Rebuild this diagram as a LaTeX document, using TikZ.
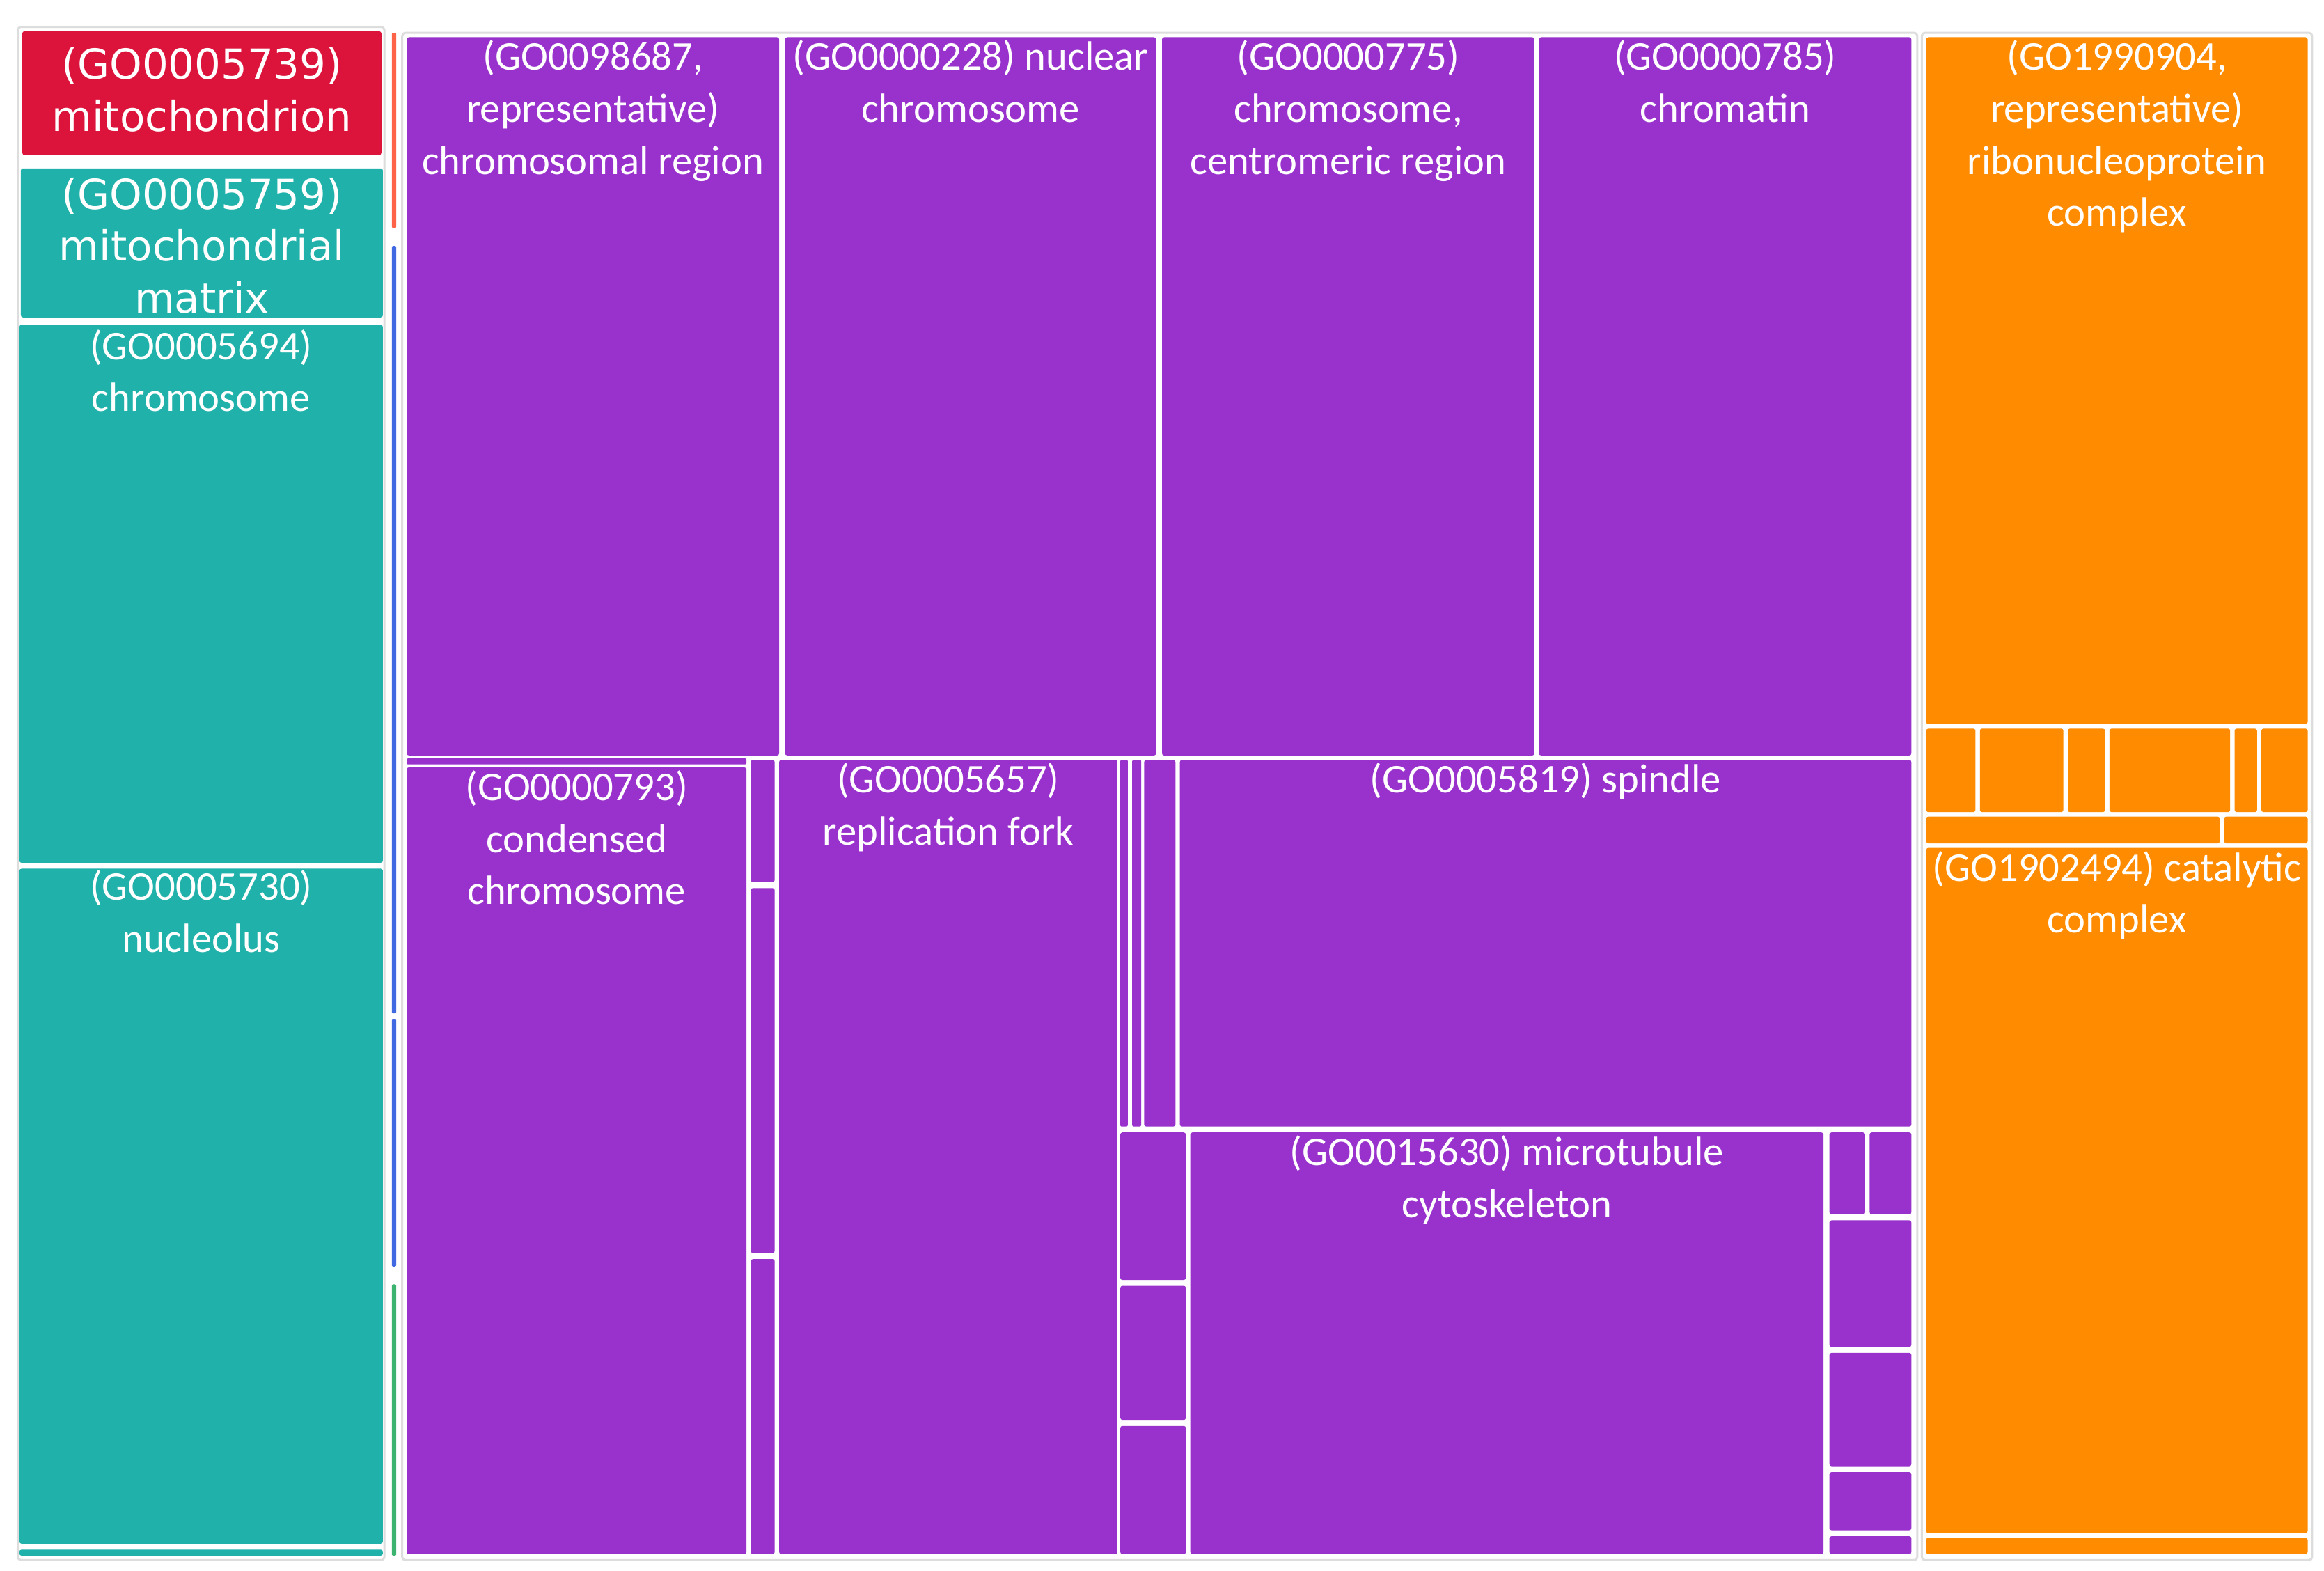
\documentclass[tikz,border=0pt]{standalone}
\usepackage{fontspec}
\setmainfont{Carlito}
\newfontfamily\dvs{DejaVu Sans}
\definecolor{cRed}{HTML}{DC143C}
\definecolor{cTeal}{HTML}{20B2AA}
\definecolor{cPur}{HTML}{9932CC}
\definecolor{cOr}{HTML}{FF8C00}
\definecolor{cTom}{HTML}{FF6347}
\definecolor{cBlue}{HTML}{4169E1}
\definecolor{cGreen}{HTML}{3CB371}
\definecolor{cGray}{HTML}{DDDDDD}
\tikzset{x=0.5mm,y=-0.5mm,
 tile/.style={rounded corners=2pt},
 grp/.style={draw=cGray,line width=2pt,fill=white,rounded corners=3pt},
 lbl/.style={anchor=north,align=center,text=white,font=\fontsize{39}{49.6}\selectfont,inner sep=0pt},
 lbld/.style={anchor=north,align=center,text=white,font=\dvs\fontsize{39.5}{49.6}\selectfont,inner sep=0pt}}
\newcommand\mytile[5]{\fill[tile,#1] (#2,#3) rectangle (#4,#5);}
\begin{document}
\begin{tikzpicture}
\useasboundingbox (0,0) rectangle (1560,1054.3);
\fill[white] (0,0) rectangle (1560,1054.3);
% groups
\draw[grp] (12,18) rectangle (258,1047);
\draw[grp] (270,22) rectangle (1287,1047);
\draw[grp] (1290,22) rectangle (1552,1047);
% left column
\mytile{cRed}{15}{21}{256}{104}
\mytile{cTeal}{14}{113}{257}{213}
\mytile{cTeal}{13}{218}{257}{579}
\mytile{cTeal}{13}{583}{257}{1036}
\mytile{cTeal}{13}{1040}{257}{1044}
\node[lbld] (n1) at (135.5,32) {(GO0005739)\\mitochondrion};
\node[lbld] (n2) at (135.5,119) {(GO0005759)\\mitochondrial\\matrix};
\node[lbl] (n3) at (135,221) {(GO0005694)\\chromosome};
\node[lbl] (n4) at (135,584) {(GO0005730)\\nucleolus};
% strip
\fill[cTom,rounded corners=1pt] (263,22) rectangle (266,153);
\fill[cBlue,rounded corners=1pt] (263,165) rectangle (266,680);
\fill[cBlue,rounded corners=1pt] (263,684) rectangle (266,850);
\fill[cGreen,rounded corners=1pt] (263,862) rectangle (266,1044);
% purple
\mytile{cPur}{273}{25}{523}{507}
\mytile{cPur}{527}{25}{776}{507}
\mytile{cPur}{780}{25}{1030}{507}
\mytile{cPur}{1033}{25}{1283}{507}
\fill[cPur,rounded corners=1pt] (273,509) rectangle (501,513);
\mytile{cPur}{273}{515}{501}{1043}
\mytile{cPur}{504}{510}{520}{592}
\mytile{cPur}{504}{596}{520}{841}
\mytile{cPur}{504}{845}{520}{1043}
\mytile{cPur}{523}{510}{750}{1043}
\fill[cPur,rounded corners=1pt] (752,510) rectangle (757,756);
\fill[cPur,rounded corners=1pt] (760,510) rectangle (766,756);
\mytile{cPur}{768}{510}{789}{756}
\mytile{cPur}{792}{510}{1283}{756}
\mytile{cPur}{752}{760}{796}{859}
\mytile{cPur}{752}{863}{796}{953}
\mytile{cPur}{752}{957}{796}{1043}
\mytile{cPur}{799}{760}{1224}{1043}
\mytile{cPur}{1228}{760}{1252}{815}
\mytile{cPur}{1255}{760}{1283}{815}
\mytile{cPur}{1228}{819}{1283}{904}
\mytile{cPur}{1228}{908}{1283}{984}
\mytile{cPur}{1228}{988}{1283}{1027}
\mytile{cPur}{1228}{1031}{1283}{1043}
\node[lbl] (p1) at (398,27) {(GO0098687,\\representative)\\chromosomal region};
\node[lbl] (p2) at (651.5,27) {(GO0000228) nuclear\\chromosome};
\node[lbl] (p3) at (905,27) {(GO0000775)\\chromosome,\\centromeric region};
\node[lbl] (p4) at (1158,27) {(GO0000785)\\chromatin};
\node[lbl] (p5) at (387,517) {(GO0000793)\\condensed\\chromosome};
\node[lbl] (p6) at (636.5,512) {(GO0005657)\\replication fork};
\node[lbl] (p7) at (1037.5,512) {(GO0005819) spindle};
\node[lbl] (p8) at (1011.5,762) {(GO0015630) microtubule\\cytoskeleton};
% orange
\mytile{cOr}{1293}{25}{1549}{486}
\mytile{cOr}{1293}{489}{1326}{545}
\mytile{cOr}{1329}{489}{1385}{545}
\mytile{cOr}{1388}{489}{1413}{545}
\mytile{cOr}{1416}{489}{1497}{545}
\mytile{cOr}{1500}{489}{1515}{545}
\mytile{cOr}{1518}{489}{1549}{545}
\mytile{cOr}{1293}{548}{1490}{566}
\mytile{cOr}{1493}{548}{1549}{566}
\mytile{cOr}{1293}{569}{1549}{1029}
\mytile{cOr}{1293}{1032}{1549}{1043}
\node[lbl] (o1) at (1421,27) {(GO1990904,\\representative)\\ribonucleoprotein\\complex};
\node[lbl] (o2) at (1421,571) {(GO1902494) catalytic\\complex};
\end{tikzpicture}
\end{document}
